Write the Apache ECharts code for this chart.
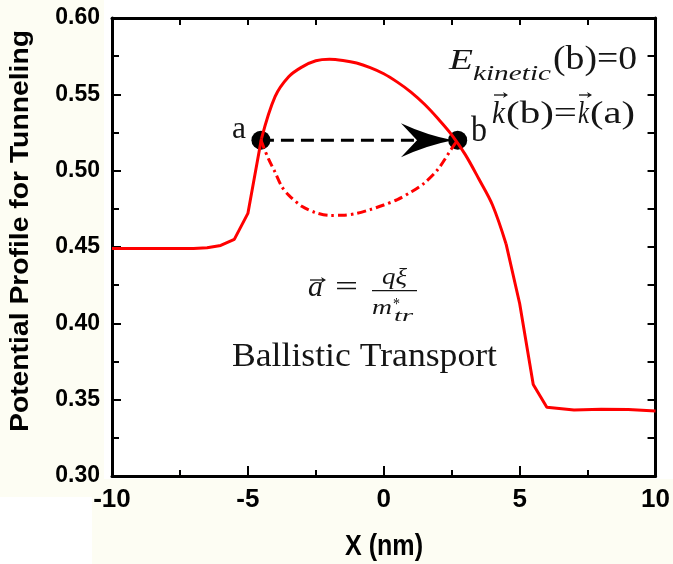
<!DOCTYPE html>
<html><head><meta charset="utf-8">
<script src="https://cdn.jsdelivr.net/npm/echarts@6/dist/echarts.min.js"></script>
<style>html,body{margin:0;padding:0;background:#fff}#c{width:673px;height:564px}</style>
</head><body><div id="c"></div>
<script>
// ---- data ----
// solid potential profile, in three pieces (flat/steep left, smooth dome, steep/flat right)
const leftX = [-10, -9, -8, -7, -6.5, -6, -5.5, -5, -4.5];
const leftY = [0.449, 0.449, 0.449, 0.449, 0.4495, 0.451, 0.455, 0.472, 0.521];
const domeX = [-4.5, -4, -3.5, -3, -2.5, -2, -1.5, -1, -0.5, 0, 0.5, 1, 1.5, 2, 2.5, 3, 3.5, 4, 4.5];
const domeY = [0.521, 0.5485, 0.5615, 0.568, 0.572, 0.573, 0.5722, 0.5705, 0.5675, 0.5635, 0.558, 0.5515, 0.5435, 0.534, 0.5235, 0.5105, 0.4945, 0.4775, 0.452];
const rightX = [4.5, 5, 5.5, 6, 7, 8, 9, 10];
const rightY = [0.452, 0.413, 0.360, 0.345, 0.3432, 0.3438, 0.3436, 0.3426];
// dash-dot classical path below the barrier
const ddX = [-4.52, -4.25, -4, -3.75, -3.5, -3, -2.5, -2, -1.5, -1, -0.5, 0, 0.5, 1, 1.5, 2, 2.5, 2.72];
const ddY = [0.520, 0.508, 0.499, 0.4895, 0.484, 0.4765, 0.4725, 0.4707, 0.4708, 0.472, 0.4745, 0.4775, 0.481, 0.486, 0.492, 0.501, 0.5145, 0.520];
// points a, b and the tunneling arrow
const pointX = [-4.52, 2.72];
const pointY = [0.520, 0.520];
const shaftX = [-4.52, 1.28];
const shaftY = [0.520, 0.520];
const headX = [1.59];
const headY = [0.520];
const xTicks = [-10, -5, 0, 5, 10];
const yTicks = [0.30, 0.35, 0.40, 0.45, 0.50, 0.55, 0.60];

const pairs = (xs, ys) => xs.map((x, i) => [x, ys[i]]);

// ---- text helpers ----
const mctx = document.createElement('canvas').getContext('2d');
function fitText(str, left, right, baseline, fs, o) {
  o = o || {};
  const font = (o.italic ? 'italic ' : '') + (o.bold ? 'bold ' : '') + fs + 'px ' + (o.family || '"Liberation Serif"');
  mctx.font = font;
  const w = mctx.measureText(str).width;
  return { type: 'text', x: left, y: baseline - 0.32 * fs, scaleX: (right - left) / w, z: 100,
    style: { text: str, font: font, fill: o.color || '#151515', align: 'left', verticalAlign: 'middle', textAlign: 'left', textVerticalAlign: 'middle' } };
}
function vec(x1, x2, y) {
  return [
    { type: 'line', z: 100, shape: { x1: x1, y1: y, x2: x2 - 2, y2: y }, style: { stroke: '#151515', lineWidth: 1.3 } },
    { type: 'polygon', z: 100, shape: { points: [[x2, y], [x2 - 5, y - 3], [x2 - 3.5, y], [x2 - 5, y + 3]] }, style: { fill: '#151515' } }
  ];
}

const yName = 'Potential Profile for Tunneling';
mctx.font = 'bold 25px "Liberation Sans"';
const yNameScale = 402 / mctx.measureText(yName).width;

const graphics = [
  { type: 'rect', z: -10, shape: { x: 0, y: 0, width: 104, height: 497 }, style: { fill: '#fdfdf3' } },
  { type: 'rect', z: -10, shape: { x: 92, y: 479, width: 581, height: 85 }, style: { fill: '#fdfdf3' } },
  fitText('a', 232, 246, 140, 32),
  fitText('b', 471, 487, 143, 36),
  fitText('E', 449, 473, 71, 30, { italic: true }),
  fitText('kinetic', 473, 551, 81, 22, { italic: true }),
  fitText('(b)=0', 553, 637, 71, 33),
  fitText('k', 492, 505, 125, 32, { italic: true }),
  fitText('(b)=', 506, 577, 125, 32),
  fitText('k', 578, 589, 125, 32, { italic: true }),
  fitText('(a)', 590, 635, 125, 32),
  ...vec(494, 508, 95),
  ...vec(579, 592, 95),
  fitText('a', 308, 323, 298, 30, { italic: true }),
  ...vec(310, 326, 280),
  fitText('=', 335, 358, 298, 30),
  { type: 'line', z: 100, shape: { x1: 372, y1: 290.7, x2: 417, y2: 290.7 }, style: { stroke: '#151515', lineWidth: 1.3 } },
  fitText('q\u03BE', 382, 407, 285, 23, { italic: true }),
  fitText('m', 372, 392, 315, 22, { italic: true }),
  fitText('*', 393, 400, 310, 16),
  fitText('tr', 394, 413, 322, 16, { italic: true }),
  fitText('Ballistic Transport', 232, 497, 368, 34),
  fitText('X (nm)', 345, 423, 556, 30, { bold: true, family: '"Liberation Sans"', color: '#000' }),
  { type: 'text', x: 21, y: 231, rotation: Math.PI / 2, scaleX: yNameScale, z: 100,
    style: { text: yName, font: 'bold 25px "Liberation Sans"', fill: '#000', align: 'center', verticalAlign: 'middle', textAlign: 'center', textVerticalAlign: 'middle' } }
];

const axisLine = { show: true, onZero: false, lineStyle: { color: '#000', width: 3 } };
const labelStyle = { fontFamily: '"Liberation Sans"', fontWeight: 'bold', color: '#000' };
const red = { color: '#ff0000', width: 3 };

const chart = echarts.init(document.getElementById('c'), null, { renderer: 'canvas' });
chart.setOption({
  animation: false,
  backgroundColor: '#ffffff',
  grid: { left: 112, right: 14, top: 18, bottom: 88, containLabel: false },
  xAxis: [
    { type: 'value', position: 'bottom', min: xTicks[0], max: xTicks[xTicks.length - 1], interval: 5,
      axisLine: axisLine, splitLine: { show: false },
      axisTick: { inside: true, length: 10, lineStyle: { color: '#000', width: 2 } },
      minorTick: { show: true, splitNumber: 2, length: 6, lineStyle: { color: '#000', width: 2 } },
      axisLabel: Object.assign({ fontSize: 26, margin: 11, showMinLabel: true, showMaxLabel: true, hideOverlap: false }, labelStyle) },
    { type: 'value', position: 'top', min: xTicks[0], max: xTicks[xTicks.length - 1], interval: 5,
      axisLine: axisLine, splitLine: { show: false },
      axisTick: { inside: true, length: 7, lineStyle: { color: '#000', width: 2 } },
      minorTick: { show: true, splitNumber: 2, length: 7, lineStyle: { color: '#000', width: 2 } },
      axisLabel: { show: false } }
  ],
  yAxis: [
    { type: 'value', position: 'left', min: yTicks[0], max: yTicks[yTicks.length - 1], interval: 0.05,
      axisLine: axisLine, splitLine: { show: false },
      axisTick: { inside: true, length: 9, lineStyle: { color: '#000', width: 2 } },
      minorTick: { show: true, splitNumber: 2, length: 7, lineStyle: { color: '#000', width: 2 } },
      axisLabel: Object.assign({ fontSize: 23, margin: 12, formatter: v => v.toFixed(2), showMinLabel: true, showMaxLabel: true, hideOverlap: false }, labelStyle) },
    { type: 'value', position: 'right', min: yTicks[0], max: yTicks[yTicks.length - 1], interval: 0.05,
      axisLine: axisLine, splitLine: { show: false },
      axisTick: { inside: true, length: 8, lineStyle: { color: '#000', width: 2 } },
      minorTick: { show: true, splitNumber: 2, length: 8, lineStyle: { color: '#000', width: 2 } },
      axisLabel: { show: false } }
  ],
  series: [
    { type: 'scatter', z: 1, data: pairs(pointX, pointY), symbol: 'circle', symbolSize: 19,
      itemStyle: { color: '#000', opacity: 1 }, silent: true },
    { type: 'line', z: 2, data: pairs(shaftX, shaftY), symbol: 'none',
      lineStyle: { color: '#000', width: 3, type: [13, 7] } },
    { type: 'scatter', z: 2, data: pairs(headX, headY),
      symbol: 'path://M0,0 Q26,12 52,17 Q26,22 0,34 L16,17 Z', symbolSize: [52, 34], symbolKeepAspect: false,
      itemStyle: { color: '#000', opacity: 1 }, silent: true },
    { type: 'line', z: 3, data: pairs(ddX, ddY), symbol: 'none', smooth: 0.3,
      lineStyle: { color: '#ff0000', width: 3, type: [9, 4, 2.5, 4] } },
    { type: 'line', z: 4, data: pairs(leftX, leftY), symbol: 'none', lineStyle: red },
    { type: 'line', z: 4, data: pairs(domeX, domeY), symbol: 'none', smooth: 0.35, lineStyle: red },
    { type: 'line', z: 4, data: pairs(rightX, rightY), symbol: 'none', lineStyle: red }
  ],
  graphic: { elements: graphics }
});
</script></body></html>
